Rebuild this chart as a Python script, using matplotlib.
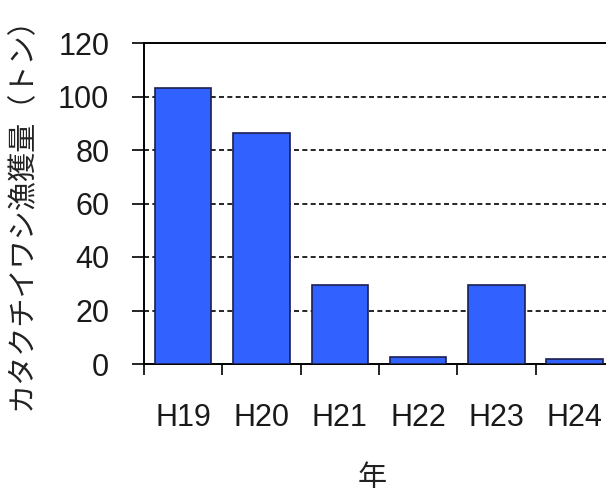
import matplotlib
matplotlib.use("Agg")
import matplotlib.pyplot as plt
from matplotlib.ticker import FixedLocator

plt.rcParams['font.family'] = ['Liberation Sans', 'Noto Sans CJK JP', 'DejaVu Sans']

years = ["H19", "H20", "H21", "H22", "H23", "H24"]
catch_tons = [103, 86.5, 29.5, 2.5, 29.5, 1.8]
y_ticks = [0, 20, 40, 60, 80, 100, 120]

fig = plt.figure(figsize=(6.06, 4.95), dpi=100)
ax = fig.add_axes([144 / 606, (495 - 364) / 495, 1 - 144 / 606, (364 - 43) / 495])

x = list(range(len(years)))
ax.bar(x, catch_tons, width=0.72, color="#3162FF", edgecolor="#1B1F4F",
       linewidth=1.2, zorder=3)

ax.set_ylim(0, 120)
ax.set_xlim(-0.5, 5.4)
ax.set_yticks(y_ticks)
ax.set_yticklabels([str(v) for v in y_ticks])

# category labels at bar centres, tick marks at category boundaries
ax.set_xticks(x)
ax.set_xticklabels(years)
ax.xaxis.set_minor_locator(FixedLocator([i - 0.5 for i in range(len(years) + 1)]))
ax.tick_params(axis="x", which="major", length=0, pad=28, labelsize=22,
               labelcolor="#1a1a1a")
ax.tick_params(axis="x", which="minor", length=8, width=1.2, direction="out")
ax.tick_params(axis="y", which="major", length=9, width=1.2, direction="out",
               pad=16, labelsize=22, labelcolor="#1a1a1a")

for v in y_ticks[1:-1]:
    ax.axhline(v, color="black", linestyle=(0, (3, 2)), linewidth=1.2, zorder=1)

for side in ("left", "top", "bottom"):
    ax.spines[side].set_color("black")
    ax.spines[side].set_linewidth(1.4)
ax.spines["right"].set_visible(False)

fig.text(22 / 606, 1 - 206 / 495, "カタクチイワシ漁獲量（トン）", rotation=90,
         ha="center", va="center", fontsize=21,
         family=["Noto Sans CJK JP", "DejaVu Sans"], color="#222222")
fig.text(372 / 606, 1 - 478 / 495, "年", ha="center", va="center", fontsize=21,
         family=["Noto Sans CJK JP", "DejaVu Sans"], color="#222222")

fig.savefig("out.png", dpi=100, facecolor="white")
